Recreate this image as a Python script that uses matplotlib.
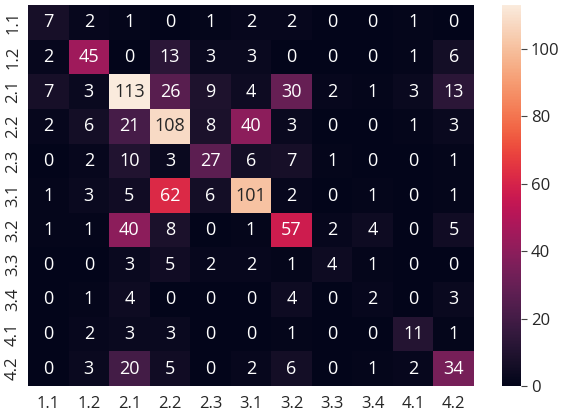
import numpy as np
import matplotlib
matplotlib.use("Agg")
import matplotlib.pyplot as plt
import seaborn as sns

labels = ["1.1", "1.2", "2.1", "2.2", "2.3", "3.1", "3.2", "3.3", "3.4", "4.1", "4.2"]

row_11 = [7, 2, 1, 0, 1, 2, 2, 0, 0, 1, 0]
row_12 = [2, 45, 0, 13, 3, 3, 0, 0, 0, 1, 6]
row_21 = [7, 3, 113, 26, 9, 4, 30, 2, 1, 3, 13]
row_22 = [2, 6, 21, 108, 8, 40, 3, 0, 0, 1, 3]
row_23 = [0, 2, 10, 3, 27, 6, 7, 1, 0, 0, 1]
row_31 = [1, 3, 5, 62, 6, 101, 2, 0, 1, 0, 1]
row_32 = [1, 1, 40, 8, 0, 1, 57, 2, 4, 0, 5]
row_33 = [0, 0, 3, 5, 2, 2, 1, 4, 1, 0, 0]
row_34 = [0, 1, 4, 0, 0, 0, 4, 0, 2, 0, 3]
row_41 = [0, 2, 3, 3, 0, 0, 1, 0, 0, 11, 1]
row_42 = [0, 3, 20, 5, 0, 2, 6, 0, 1, 2, 34]

cm = np.array([row_11, row_12, row_21, row_22, row_23, row_31,
               row_32, row_33, row_34, row_41, row_42])

sns.set_theme(style="white")
plt.rcParams["font.family"] = ["Open Sans", "DejaVu Sans"]

fig = plt.figure(figsize=(5.61, 4.12), dpi=100)
ax = fig.add_axes([28 / 561, 26 / 412, 446 / 561, 381 / 412])
cax = fig.add_axes([502 / 561, 26 / 412, 19 / 561, 381 / 412])

sns.heatmap(cm, annot=True, fmt="d", cmap="rocket",
            xticklabels=labels, yticklabels=labels,
            ax=ax, cbar_ax=cax, annot_kws={"fontsize": 13})

ax.tick_params(axis="x", labelsize=12, length=0, pad=7)
ax.tick_params(axis="y", labelsize=12, length=0, pad=5)
cax.tick_params(labelsize=12, length=4, width=0.8, color="#444444", pad=3)

fig.savefig("out.png", dpi=100)
